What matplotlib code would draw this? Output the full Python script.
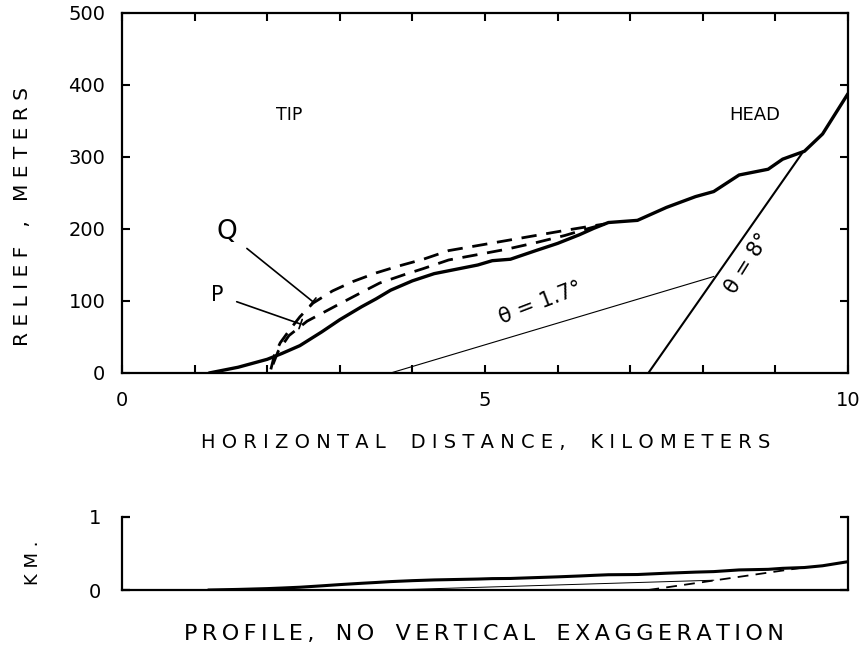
import matplotlib
matplotlib.use("Agg")
import matplotlib.pyplot as plt
import numpy as np

# ---- data ----
profile_x = [1.2, 1.6, 2.0, 2.2, 2.45, 2.75, 3.0, 3.3, 3.5, 3.7, 4.0, 4.3, 4.6, 4.9, 5.1,
             5.35, 5.7, 6.0, 6.3, 6.5, 6.7, 7.1, 7.5, 7.9, 8.15, 8.5, 8.9, 9.1, 9.4, 9.65, 10.0]
profile_y = [0, 8, 19, 27, 38, 57, 74, 92, 103, 115, 128, 138, 144, 150, 156,
             158, 170, 180, 192, 201, 209, 212, 230, 245, 252, 275, 283, 297, 308, 332, 388]

q_x = [2.05, 2.1, 2.18, 2.31, 2.45, 2.63, 2.9, 3.18, 3.5, 3.79, 4.15, 4.5, 4.9, 5.3, 5.7, 6.1, 6.4, 6.65]
q_y = [5, 25, 42, 60, 78, 97, 114, 127, 139, 148, 158, 170, 177, 184, 191, 198, 203, 207]

p_x = [2.08, 2.15, 2.3, 2.55, 2.96, 3.3, 3.55, 3.9, 4.15, 4.5, 4.93, 5.3, 5.7, 6.1, 6.4, 6.65]
p_y = [12, 30, 52, 72, 94, 112, 125, 137, 145, 157, 165, 172, 181, 191, 200, 207]

slope17_x = [3.7, 8.15]
slope17_y = [0, 134]
slope8_x = [7.25, 9.38]
slope8_y = [0, 307]

x_ticks = list(range(11))
x_tick_labels = ["0", "", "", "", "", "5", "", "", "", "", "10"]
y_ticks = [0, 100, 200, 300, 400, 500]
y_tick_labels = ["0", "100", "200", "300", "400", "500"]

q_leader = [(1.72, 173), (2.63, 99)]
p_leader = [(1.58, 99), (2.46, 68)]

W, H = 862, 656
fig = plt.figure(figsize=(W / 100, H / 100), dpi=100)
plt.rcParams['font.family'] = ['DejaVu Sans']

def fx(px):
    return px / W

def fy(py):
    return 1 - py / H

def spaced(text, sep=" ", word_sep="    "):
    return word_sep.join(sep.join(list(w)) for w in text.split(" "))

# ---- main axes ----
ax = fig.add_axes([fx(122), fy(373), fx(848) - fx(122), fy(13) - fy(373)])
ax.plot(profile_x, profile_y, color="black", lw=2.4, solid_capstyle="round")
ax.plot(q_x, q_y, color="black", lw=2.0, dashes=(5.5, 3.5))
ax.plot(p_x, p_y, color="black", lw=2.0, dashes=(5.5, 3.5))
ax.plot(slope17_x, slope17_y, color="black", lw=0.8)
ax.plot(slope8_x, slope8_y, color="black", lw=1.5)

ax.set_xlim(0, 10)
ax.set_ylim(0, 500)
ax.set_xticks(x_ticks)
ax.set_xticklabels(x_tick_labels)
ax.set_yticks(y_ticks)
ax.set_yticklabels(y_tick_labels)
ax.tick_params(axis="both", direction="in", length=6, width=1.5, labelsize=14,
               top=True, right=True)
ax.tick_params(axis="x", pad=13)
ax.tick_params(axis="y", pad=12)
for s in ax.spines.values():
    s.set_linewidth(1.6)

ax.text(2.3, 358, "TIP", fontsize=12.5, ha="center", va="center")
ax.text(8.72, 358, "HEAD", fontsize=13, ha="center", va="center")
ax.text(1.44, 196, "Q", fontsize=19, ha="center", va="center")
ax.text(1.31, 108, "P", fontsize=15, ha="center", va="center")
ax.annotate("", xy=q_leader[1], xytext=q_leader[0],
            arrowprops=dict(arrowstyle="|-|,widthA=0,widthB=0.35", lw=1.2, color="black",
                            shrinkA=0, shrinkB=0))
ax.annotate("", xy=p_leader[1], xytext=p_leader[0],
            arrowprops=dict(arrowstyle="|-|,widthA=0,widthB=0.35", lw=1.2, color="black",
                            shrinkA=0, shrinkB=0))
ax.text(5.77, 98, "θ = 1.7°", fontsize=15, rotation=21, ha="center", va="center")
ax.text(8.62, 152, "θ = 8°", fontsize=15, rotation=58, ha="center", va="center")

fig.text(fx(486), fy(443), spaced("HORIZONTAL DISTANCE, KILOMETERS"),
         fontsize=14, ha="center", va="center")
fig.text(fx(23), fy(217), spaced("RELIEF , METERS", word_sep="   "),
         fontsize=14.5, ha="center", va="center", rotation=90)

# ---- bottom (true-scale) axes ----
ax2 = fig.add_axes([fx(122), fy(590), fx(848) - fx(122), fy(517) - fy(590)])
ax2.plot(profile_x, np.array(profile_y) / 1000.0, color="black", lw=2.2)
ax2.plot(slope17_x, np.array(slope17_y) / 1000.0, color="black", lw=0.7)
ax2.plot(slope8_x, np.array(slope8_y) / 1000.0, color="black", lw=1.3, dashes=(6, 4))
ax2.set_xlim(0, 10)
ax2.set_ylim(0, 1)
ax2.spines["top"].set_visible(False)
for s in ["left", "right", "bottom"]:
    ax2.spines[s].set_linewidth(1.6)
ax2.set_xticks([])
ax2.set_yticks([0, 1])
ax2.set_yticklabels(["0", "1"])
ax2.tick_params(axis="y", direction="in", length=6, width=1.6, labelsize=14,
                right=True, pad=15)
fig.text(fx(33), fy(563), "K M .", fontsize=13, ha="center", va="center", rotation=90)
fig.text(fx(484), fy(634),
         spaced("PROFILE, NO VERTICAL EXAGGERATION", sep="\u2009", word_sep="   "),
         fontsize=16, ha="center", va="center")

fig.savefig("out.png", dpi=100)
